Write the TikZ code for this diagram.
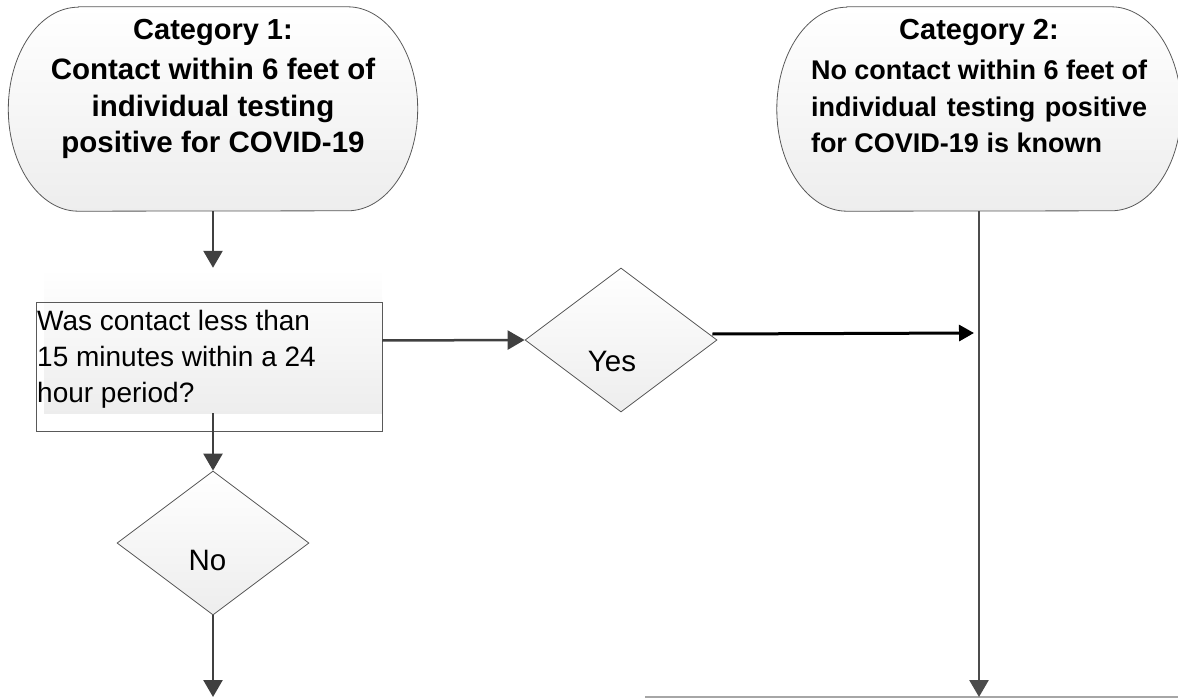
\documentclass[tikz,border=0pt]{standalone}
\usepackage{fontspec}
\setmainfont{Liberation Sans}
\usetikzlibrary{positioning, arrows.meta, shapes.geometric, calc}

\tikzset{
  shade/.style={top color=white, bottom color=black!7},
  outline/.style={draw=black!65, line width=0.8pt},
  flow/.style={draw=black!75, line width=2.5pt, -{Triangle[length=17pt, width=19pt]}},
  yesflow/.style={draw=black, line width=3pt, -{Triangle[length=15pt, width=16pt]}},
  decision/.style={diamond, outline, shade, minimum width=192pt, minimum height=144pt, inner sep=0pt, font=\fontsize{29.5}{34}\selectfont},
  cattext/.style={font=\bfseries, inner sep=0pt, anchor=north},
}

% stadium with elliptic ends round an empty node
\newcommand{\terminal}[1]{%
  \path[outline, shade] ([xshift=70pt]#1.north west) -- ([xshift=-70pt]#1.north east)
    arc[start angle=90, end angle=-90, x radius=70pt, y radius=102pt]
    -- ([xshift=70pt]#1.south west)
    arc[start angle=270, end angle=90, x radius=70pt, y radius=102pt] -- cycle;}
\newcommand{\offtext}[3]{\makebox[0pt]{\hspace*{#1}\raisebox{#2}[0pt][0pt]{#3}}}
\newcommand{\headsize}{\fontsize{29}{36}\selectfont}

\begin{document}
\begin{tikzpicture}[x=1pt, y=-1pt]
\useasboundingbox (0,0) rectangle (1178,698);

% Category 1
\node (cat1) [minimum width=409pt, minimum height=204pt, inner sep=0pt] at (213,109) {};
\terminal{cat1}
\node (cat1txt) [cattext, align=center, font=\fontsize{29.5}{36.5}\selectfont\bfseries] at ([yshift=-12pt]cat1.north) {{\headsize Category 1:}\\[4pt] Contact within 6 feet of\\ individual testing\\ positive for COVID-19};

% Category 2
\node (cat2) [minimum width=404pt, minimum height=204pt, inner sep=0pt] at (979,109) {};
\terminal{cat2}
\node (cat2txt) [cattext, text width=336pt, align=justify, font=\fontsize{27}{36.5}\selectfont\bfseries] at ([yshift=-12pt]cat2.north) {\makebox[\linewidth]{\headsize Category 2:}\\[4pt] No contact within 6 feet of\linebreak individual testing positive\linebreak for COVID-19 is known};

% Question box
\node (question) [shade, minimum width=338pt, minimum height=145pt, inner sep=0pt] at (213,340.5) {};
\draw[outline, line width=0.9pt] (36,302) rectangle (382,431);
\node (qtext) [anchor=north west, align=left, inner sep=0pt, font=\fontsize{28}{36}\selectfont] at (37,310) {Was contact less than\\ 15 minutes within a 24\\ hour period?};

% Decisions
\node (yes) [decision] at (621,340) {\offtext{-18pt}{-31pt}{Yes}};
\node (no) [decision] at (213,543) {\offtext{-11pt}{-27pt}{No}};

% Bottom edge
\draw[black!35, line width=1.5pt] (645,697) -- (1178,697);

% Connectors
\coordinate (endL) at (213,697);
\coordinate (endR) at (979,697);
\coordinate (merge) at (974,333);
\draw[flow] (cat1.south) -- (question.north);
\draw[flow] (question.east) -- (yes.west);
\draw[flow] (question.south) -- (no.north);
\draw[flow] (no.south) -- (endL);
\draw[flow, draw=black!70, line width=2.7pt] (cat2.south) -- (endR);
\draw[yesflow] ([xshift=-5pt, yshift=6pt]yes.east) -- (merge);
\end{tikzpicture}
\end{document}
